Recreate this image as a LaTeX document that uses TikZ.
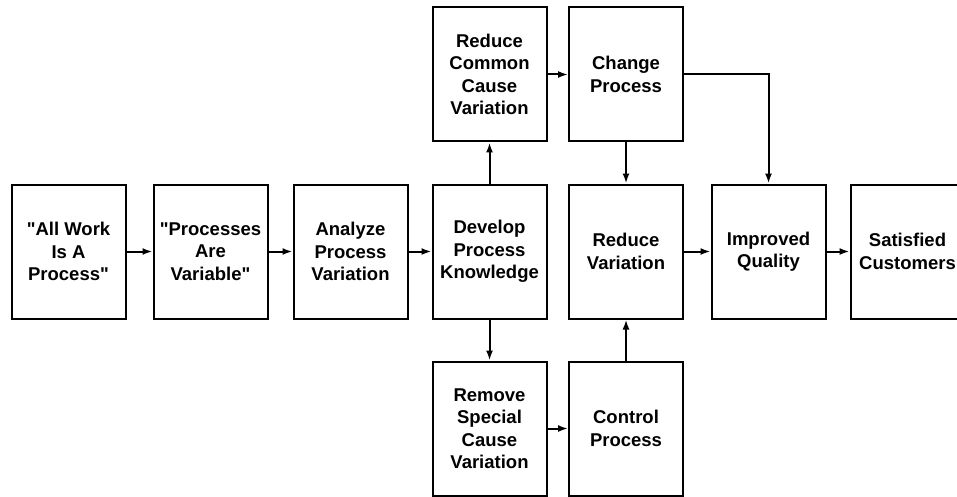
\documentclass[tikz,border=0pt]{standalone}
\usepackage{fontspec}
\setmainfont{Liberation Sans}
\usetikzlibrary{arrows.meta}

\begin{document}
\begin{tikzpicture}[x=1pt,y=-1pt,font=\fontsize{18.5}{22.5}\selectfont\bfseries,
    box/.style={draw,line width=2pt,minimum width=114pt,minimum height=134pt,inner sep=0pt,align=center},
    flow/.style={line width=2pt,-{Latex[length=10pt,width=7pt]}}]
    \useasboundingbox (0,0) rectangle (957,497);
    \foreach \name/\xpos/\label in {work/68.5/{\textquotedbl All Work\\Is A\\Process\textquotedbl},
                                    variable/210.5/{\textquotedbl Processes\\Are\\Variable\textquotedbl},
                                    analyze/350.5/{Analyze\\Process\\Variation},
                                    develop/489.5/{Develop\\Process\\Knowledge},
                                    reduce/626/{Reduce\\Variation},
                                    improved/768.5/{Improved\\Quality},
                                    satisfied/907.5/{Satisfied\\Customers}} {
        \node[box] (\name) at (\xpos,251.5) {\label};
    }
    \node[box] (common) at (489.5,74.5) {Reduce\\Common\\Cause\\Variation};
    \node[box] (change) at (626,74.5) {Change\\Process};
    \node[box] (special) at (489.5,428.5) {Remove\\Special\\Cause\\Variation};
    \node[box] (control) at (626,428.5) {Control\\Process};

    \foreach \from/\to in {work/variable, variable/analyze, analyze/develop, develop/common,
                           develop/special, common/change, special/control, change/reduce,
                           control/reduce, reduce/improved, improved/satisfied} {
        \draw[flow] (\from) -- (\to);
    }
    \draw[flow] (change) -| (improved);
\end{tikzpicture}
\end{document}
